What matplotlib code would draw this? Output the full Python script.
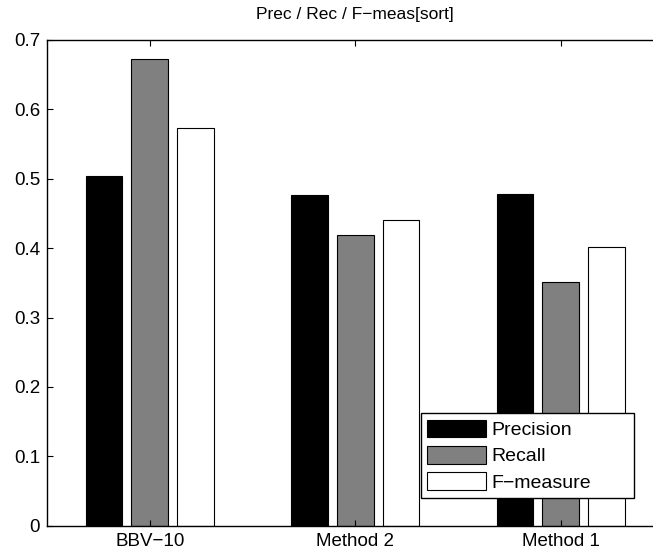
import matplotlib
matplotlib.use("Agg")
import matplotlib.pyplot as plt
import numpy as np

categories = ["BBV\u221210", "Method 2", "Method 1"]
precision = [0.504, 0.4765, 0.478]
recall = [0.672, 0.419, 0.351]
fmeasure = [0.573, 0.440, 0.402]
series_names = ["Precision", "Recall", "F\u2212measure"]
yticks = [0, 0.1, 0.2, 0.3, 0.4, 0.5, 0.6, 0.7]
ytick_labels = ["0", "0.1", "0.2", "0.3", "0.4", "0.5", "0.6", "0.7"]
title = "Prec / Rec / F\u2212meas[sort]"

plt.rcParams['font.family'] = ['Liberation Sans', 'DejaVu Sans']

fig = plt.figure(figsize=(6.53, 5.53), dpi=100)
W, H = 653, 553
left_px, right_px, top_px, bot_px = 47, 663.5, 40, 525.7
ax = fig.add_axes([left_px / W, (H - bot_px) / H, (right_px - left_px) / W, (bot_px - top_px) / H])

x = np.arange(1, len(categories) + 1)
bw = 0.178
off = 0.222
colors = ["black", "#808080", "white"]
for i, (vals, name) in enumerate(zip([precision, recall, fmeasure], series_names)):
    ax.bar(x + (i - 1) * off, vals, width=bw, color=colors[i], edgecolor="black",
           linewidth=0.8, label=name)

ax.set_xlim(0.5, 3.5)
ax.set_ylim(0, 0.7)
ax.set_xticks(x)
ax.set_xticklabels(categories)
ax.set_yticks(yticks)
ax.set_yticklabels(ytick_labels)
ax.tick_params(direction="in", length=4.5, width=0.8, labelsize=13.5, top=True, right=True, pad=5)
for s in ax.spines.values():
    s.set_linewidth(1.0)
ax.set_title(title, fontsize=12.5, pad=15)

leg = ax.legend(loc="lower left", bbox_to_anchor=(0.607, 0.057, 0.345, 0.176), mode="expand",
                borderaxespad=0,
                fancybox=False, edgecolor="black", fontsize=14, handlelength=3.0,
                handleheight=1.03, handletextpad=0.3, labelspacing=0.35, borderpad=0.32,
                framealpha=1)
leg.get_frame().set_linewidth(1.0)

fig.savefig("out.png", dpi=100)
